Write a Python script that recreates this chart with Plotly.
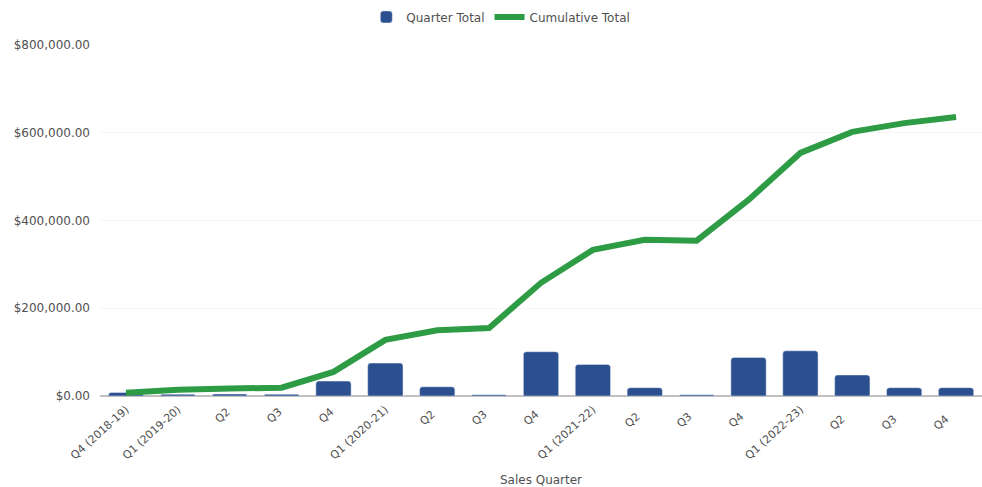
import plotly.graph_objects as go

quarters = [
    "Q4 (2018-19)", "Q1 (2019-20)", "Q2 ", "Q3 ", "Q4 ",
    "Q1 (2020-21)", "Q2  ", "Q3  ", "Q4  ",
    "Q1 (2021-22)", "Q2   ", "Q3   ", "Q4   ",
    "Q1 (2022-23)", "Q2    ", "Q3    ", "Q4    ",
]
quarter_total = [8000, 4000, 4500, 4000, 34000, 75000, 21000, 3000, 101000,
                 72000, 19000, 3000, 88000, 103000, 48000, 19000, 19000]
cumulative_total = [7500, 14000, 17000, 19000, 55000, 128000, 150000, 155000, 258000,
                    333000, 356000, 354000, 447000, 554000, 602000, 622000, 636000]
y_ticks = [0, 200000, 400000, 600000, 800000]

fig = go.Figure()
fig.add_trace(go.Bar(
    x=quarters, y=quarter_total, name="Quarter Total",
    marker=dict(color="#2c4f8f", cornerradius=3),
))
fig.add_trace(go.Scatter(
    x=quarters, y=cumulative_total, name="Cumulative Total",
    mode="lines", line=dict(color="#2e9b45", width=6),
))

fig.update_layout(
    width=982, height=487,
    margin=dict(l=100, r=0, t=45, b=91),
    paper_bgcolor="white", plot_bgcolor="white",
    font=dict(family="DejaVu Sans, Verdana, sans-serif", size=11, color="#505050"),
    bargap=0.32,
    showlegend=True,
    legend=dict(
        orientation="h", xref="container", x=0.51, xanchor="center",
        yref="container", y=0.995, yanchor="top",
        font=dict(size=12, color="#505050"),
    ),
    xaxis=dict(
        tickangle=-42, showgrid=False, showline=False, ticks="",
        title=dict(text="Sales Quarter", font=dict(size=12, color="#505050"), standoff=16),
        tickfont=dict(size=11, color="#505050"),
        ticklabelstandoff=4,
    ),
    yaxis=dict(
        range=[0, 800000], tickvals=y_ticks, tickformat="$,.2f",
        showgrid=True, gridcolor="#f6f6f6", zeroline=True, zerolinecolor="#c0c0c0",
        zerolinewidth=2, ticks="", tickfont=dict(size=12, color="#505050"),
        ticklabelstandoff=9,
    ),
)

fig.write_html("out.html")
